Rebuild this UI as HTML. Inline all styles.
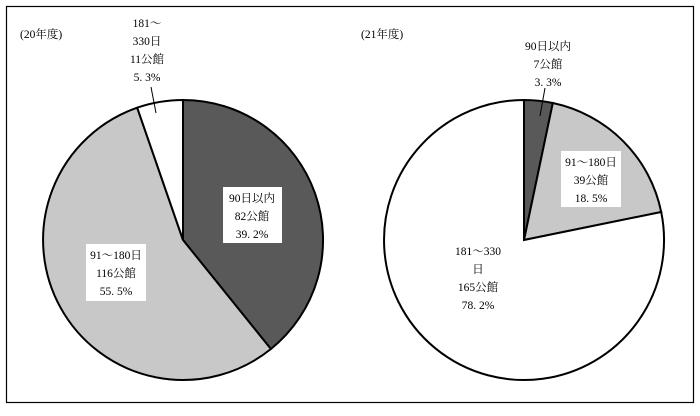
<!DOCTYPE html>
<html><head><meta charset="utf-8"><style>
body{margin:0;background:#fff}
text{font-family:"Liberation Serif","Noto Serif CJK JP",serif;font-size:11.5px;fill:#000}
</style></head><body>
<svg width="700" height="411" viewBox="0 0 700 411" xmlns="http://www.w3.org/2000/svg">
<rect x="6.5" y="6.5" width="687" height="396" fill="#fff" stroke="#000" stroke-width="1.2"/>
<g stroke="#000" stroke-width="2">
<path d="M183,240 L183,100 A140,140 0 0 1 270.9,349 Z" fill="#595959"/>
<path d="M183,240 L270.9,349 A140,140 0 1 1 137.2,107.7 Z" fill="#c8c8c8"/>
<path d="M183,240 L137.2,107.7 A140,140 0 0 1 183,100 Z" fill="#fff"/>
<path d="M524,240 L524,100 A140,140 0 0 1 552.8,103 Z" fill="#595959"/>
<path d="M524,240 L552.8,103 A140,140 0 0 1 661.2,212 Z" fill="#c8c8c8"/>
<path d="M524,240 L661.2,212 A140,140 0 1 1 524,100 Z" fill="#fff"/>
</g>
<g stroke="#000" stroke-width="1">
<line x1="151" y1="87" x2="156" y2="113"/>
<line x1="545" y1="88" x2="540" y2="116"/>
</g>
<text x="20" y="38">(20年度)</text>
<text x="361" y="38">(21年度)</text>
<g text-anchor="middle">
<text x="147" y="27">181～</text><text x="147" y="45">330日</text><text x="147" y="63">11公館</text><text x="147" y="81">5. 3%</text>
<rect x="223" y="187" width="59" height="56" fill="#fff"/>
<text x="252" y="202">90日以内</text><text x="252" y="220">82公館</text><text x="252" y="238">39. 2%</text>
<rect x="86" y="244" width="60" height="57" fill="#fff"/>
<text x="116" y="259">91～180日</text><text x="116" y="277">116公館</text><text x="116" y="295">55. 5%</text>
<text x="548" y="50">90日以内</text><text x="548" y="68">7公館</text><text x="548" y="86">3. 3%</text>
<rect x="561" y="151" width="60" height="56" fill="#fff"/>
<text x="591" y="166">91～180日</text><text x="591" y="184">39公館</text><text x="591" y="202">18. 5%</text>
<text x="478" y="255">181～330</text><text x="478" y="273">日</text><text x="478" y="291">165公館</text><text x="478" y="309">78. 2%</text>
</g>
</svg>
</body></html>
